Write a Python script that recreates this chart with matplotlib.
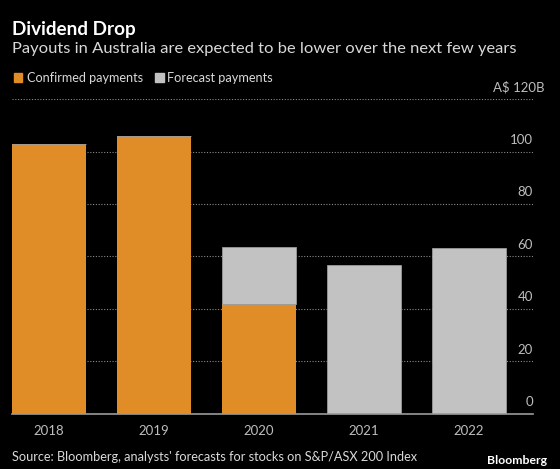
import matplotlib
matplotlib.use('Agg')
import numpy as np
from matplotlib import pyplot as plt
from matplotlib import transforms as mtransforms
from matplotlib.patches import Rectangle

years = ['2018', '2019', '2020', '2021', '2022']
confirmed = [102.9, 105.9, 41.9, 0, 0]
forecast = [0, 0, 21.8, 56.8, 63.4]
yticks = [0, 20, 40, 60, 80, 100, 120]

ORANGE = '#e08c27'
GREY = '#c2c2c2'
TEXT = '#d9d9d9'
TICK = '#bdbdbd'
FONT = ['Lato', 'DejaVu Sans']

plt.rcParams['font.family'] = FONT

fig = plt.figure(figsize=(5.6, 4.69), dpi=100, facecolor='black')
ax = fig.add_axes([0.0214, 0.1173, 0.9304, 0.6716], facecolor='black')

x = np.arange(len(years))
ax.bar(x, confirmed, width=0.7, color=ORANGE, zorder=3)
ax.bar(x, forecast, width=0.7, bottom=confirmed, color=GREY,
       edgecolor='#9a9a9a', linewidth=0.6, zorder=3)

ax.set_xlim(-0.35, 4.61)
ax.set_ylim(0, 120)
ax.set_yticks(yticks)
ax.set_yticklabels([])
ax.yaxis.grid(True, color='#8a8a8a', linestyle=(0, (1, 1.5)), linewidth=0.8, zorder=0)
ax.set_xticks(x)
ax.set_xticklabels(years, color=TICK, fontsize=9.5)
ax.tick_params(axis='x', length=0, pad=8)
ax.tick_params(axis='y', length=0)
for s in ['top', 'left', 'right']:
    ax.spines[s].set_visible(False)
ax.spines['bottom'].set_color('#9a9a9a')
ax.spines['bottom'].set_linewidth(1.2)
ax.spines['bottom'].set_zorder(4)

# y labels sit above their gridlines at the right edge
trans = mtransforms.blended_transform_factory(ax.transAxes, ax.transData)
off = mtransforms.ScaledTranslation(0, 4 / 72, fig.dpi_scale_trans)
for v in yticks:
    if v == 120:
        ax.text(1.0 + 11 / 520, v, 'A$ 120B', transform=trans + off, ha='right',
                va='bottom', color=TICK, fontsize=9.5)
    else:
        ax.text(1.0, v, str(v), transform=trans + off, ha='right', va='bottom',
                color=TICK, fontsize=9.5)

fig.text(12 / 560, 1 - 29 / 469, 'Dividend Drop', color='white', fontsize=13.6,
         fontweight='bold', va='center', ha='left')
fig.text(12 / 560, 1 - 49 / 469,
         'Payouts in Australia are expected to be lower over the next few years',
         color=TEXT, fontsize=11.85, va='center', ha='left')

# legend
fig.patches.append(Rectangle((13.5 / 560, 1 - 82 / 469), 8.5 / 560, 8.5 / 469,
                             transform=fig.transFigure, color=ORANGE))
fig.text(27 / 560, 1 - 77.5 / 469, 'Confirmed payments', color=TEXT, fontsize=9.1,
         va='center', ha='left')
fig.patches.append(Rectangle((155 / 560, 1 - 82 / 469), 8.5 / 560, 8.5 / 469,
                             transform=fig.transFigure, color=GREY))
fig.text(167 / 560, 1 - 77.5 / 469, 'Forecast payments', color=TEXT, fontsize=9.2,
         va='center', ha='left')

fig.text(12 / 560, 1 - 457 / 469,
         "Source: Bloomberg, analysts' forecasts for stocks on S&P/ASX 200 Index",
         color=TEXT, fontsize=9.2, va='center', ha='left')
fig.text(547 / 560, 1 - 460 / 469, 'Bloomberg', color='white', fontsize=8.8,
         fontweight='bold', va='center', ha='right')

fig.savefig('out.png', dpi=100, facecolor='black')
